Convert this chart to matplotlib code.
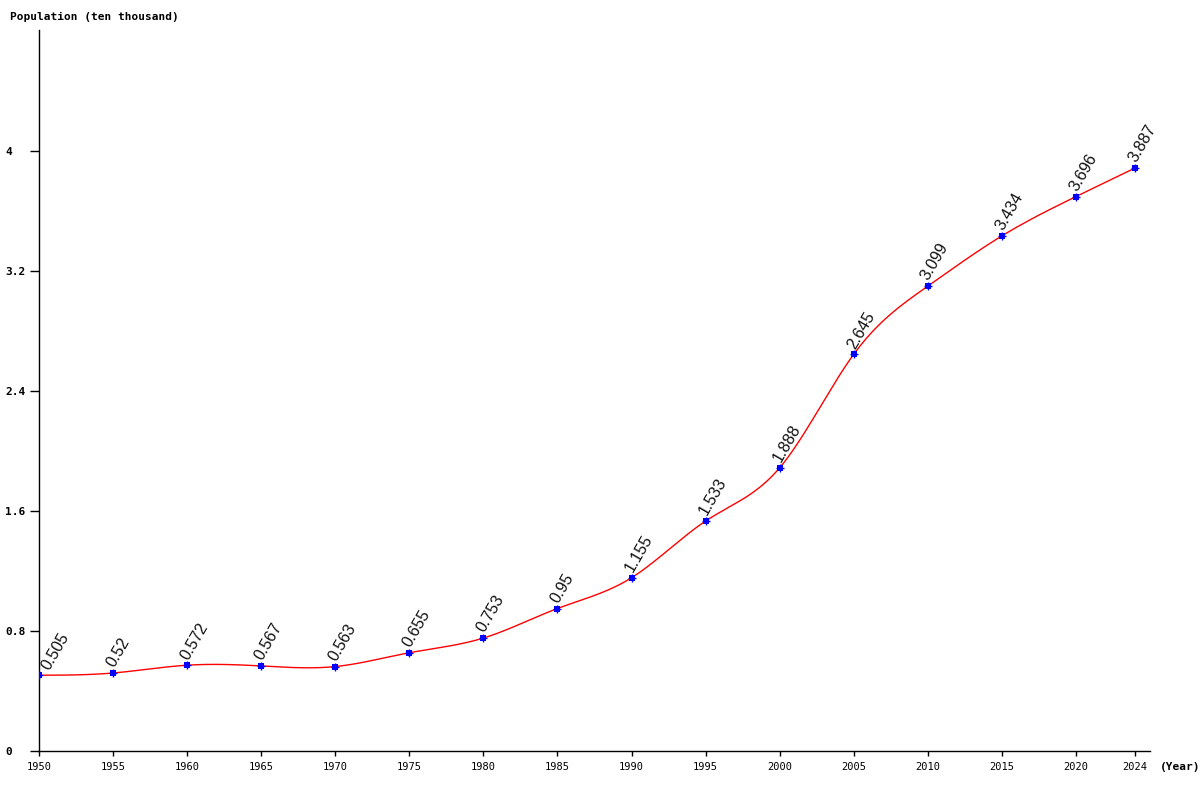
import numpy as np
import matplotlib
matplotlib.use("Agg")
import matplotlib.pyplot as plt

years = [1950, 1955, 1960, 1965, 1970, 1975, 1980, 1985, 1990, 1995, 2000, 2005, 2010, 2015, 2020, 2024]
population = [0.505, 0.52, 0.572, 0.567, 0.563, 0.655, 0.753, 0.95, 1.155, 1.533, 1.888, 2.645, 3.099, 3.434, 3.696, 3.887]
labels = ["0.505", "0.52", "0.572", "0.567", "0.563", "0.655", "0.753", "0.95", "1.155", "1.533", "1.888", "2.645", "3.099", "3.434", "3.696", "3.887"]
yticks = [0, 0.8, 1.6, 2.4, 3.2, 4]
ytick_labels = ["0", "0.8", "1.6", "2.4", "3.2", "4"]


def natural_spline(x, y, n=40):
    x = np.asarray(x, float)
    y = np.asarray(y, float)
    k = len(x)
    h = np.diff(x)
    A = np.zeros((k, k))
    b = np.zeros(k)
    A[0, 0] = 1
    A[-1, -1] = 1
    for i in range(1, k - 1):
        A[i, i - 1] = h[i - 1]
        A[i, i] = 2 * (h[i - 1] + h[i])
        A[i, i + 1] = h[i]
        b[i] = 6 * ((y[i + 1] - y[i]) / h[i] - (y[i] - y[i - 1]) / h[i - 1])
    M = np.linalg.solve(A, b)
    xs, ys = [], []
    for i in range(k - 1):
        t = np.linspace(x[i], x[i + 1], n, endpoint=(i == k - 2))
        a = x[i + 1] - t
        c = t - x[i]
        s = (M[i] * a ** 3 + M[i + 1] * c ** 3) / (6 * h[i]) \
            + (y[i] / h[i] - M[i] * h[i] / 6) * a \
            + (y[i + 1] / h[i] - M[i + 1] * h[i] / 6) * c
        xs.append(t)
        ys.append(s)
    return np.concatenate(xs), np.concatenate(ys)


fig = plt.figure(figsize=(12, 8), dpi=100)
ax = fig.add_axes([39 / 1200, 49 / 800, 1111 / 1200, 721 / 800])
ax.set_xlim(1950, 2025)
ax.set_ylim(0, 721 / 150)

sx, sy = natural_spline(years, population)
ax.plot(sx, sy, color="red", lw=1.0, zorder=2)
ax.plot(years, population, linestyle="none", marker="s", ms=4, color="blue",
        markeredgewidth=0, zorder=3)
ax.plot(years, population, linestyle="none", marker="+", ms=6, color="blue",
        markeredgewidth=1, zorder=3)

for i, (x, y, t) in enumerate(zip(years, population, labels)):
    dx = 5 if i == 0 else -2
    ax.annotate(t, (x, y), xytext=(dx, 5), textcoords="offset points",
                rotation=60, rotation_mode="anchor", ha="left", va="center",
                fontsize=11.5, family="Liberation Sans", color="#111111")

for s in ["top", "right"]:
    ax.spines[s].set_visible(False)
for s in ["left", "bottom"]:
    ax.spines[s].set_linewidth(1.0)

ax.set_xticks(years)
ax.set_xticklabels([str(y) for y in years], family="DejaVu Sans Mono", fontsize=7.5)
ax.tick_params(axis="x", length=3.6, width=1, pad=4)
ax.set_yticks(yticks)
ax.set_yticklabels(ytick_labels, family="DejaVu Sans Mono", fontsize=8, fontweight="bold")
ax.tick_params(axis="y", length=6.5, width=1, pad=18)
for lab in ax.get_yticklabels():
    lab.set_horizontalalignment("left")

fig.text(10 / 1200, 1 - 17 / 800, "Population (ten thousand)", family="DejaVu Sans Mono",
         fontsize=8, fontweight="bold", ha="left", va="center")
fig.text(1160 / 1200, 1 - 767 / 800, "(Year)", family="DejaVu Sans Mono",
         fontsize=8, fontweight="bold", ha="left", va="center")

fig.savefig("out.png", dpi=100, facecolor="white")
